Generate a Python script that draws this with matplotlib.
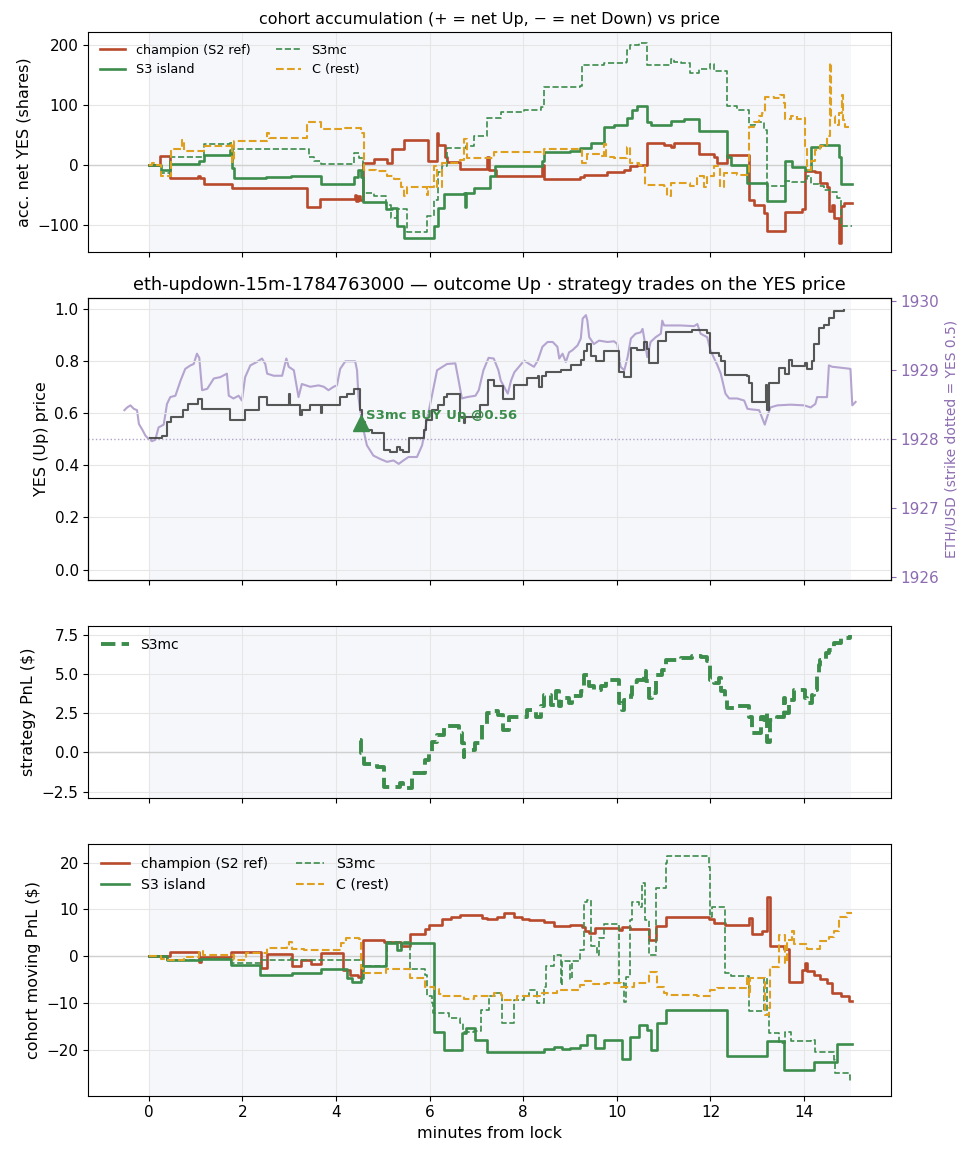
import matplotlib
matplotlib.use("Agg")
import matplotlib.pyplot as plt

# ---- data ----
champ_acc_t = [0, 0.24, 0.45, 1.06, 1.10, 1.18, 1.77, 3.39, 3.66, 4.40, 4.43, 4.47, 4.52, 4.58, 4.81, 5.08, 5.20, 5.45,
               5.96, 6.15, 6.19, 6.32, 6.38, 6.66, 7.23, 7.27, 7.41, 8.41, 8.44, 9.22, 9.30, 9.79, 10.15, 10.29, 10.43,
               10.65, 11.0, 11.15, 11.22, 11.75, 12.07, 12.14, 12.36, 12.82, 12.93, 13.14, 13.21, 13.60, 13.96, 14.03,
               14.24, 14.35, 14.49, 14.53, 14.60, 14.63, 14.74, 14.78, 14.85, 15.02]
champ_acc = [0, 15, -22, -19, -22, -31, -38, -70, -57, -50, -60, -52, -58, 4, 10, 3, 27, 41,
             6, 53, 34, 14, 5, -7, 14, -8, -19, 0, -24, -20, -17, -12, -8, -2, 0,
             37, 34, 30, 37, 19, 14, 3, 17, -58, -66, -80, -110, -79, -74, -10,
             -12, -30, -36, -77, -66, -88, -130, -69, -63, -63]

isl_acc_t = [0, 0.256, 0.456, 1.075, 1.18, 1.74, 1.77, 1.82, 2.50, 3.03, 3.67, 4.38, 4.46, 4.53, 4.58, 5.06, 5.20,
             5.31, 5.45, 6.09, 6.18, 6.31, 6.73, 6.75, 6.77, 6.95, 7.30, 7.39, 8.41, 8.44, 9.01, 9.22, 9.44, 9.72,
             9.94, 10.22, 10.33, 10.43, 10.65, 10.72, 11.15, 11.43, 11.75, 12.36, 12.43, 12.78, 13.21, 13.60, 13.74,
             14.03, 14.14, 14.35, 14.74, 14.78, 15.02]
isl_acc = [0, -8, 2, 6, 16, 25, -5, -22, -20, -18, -31, -20, -8, -20, -62, -74, -72,
           -102, -122, -102, -72, -49, -47, -70, -47, -38, -19, -2, 6, 21, 24, 28, 37, 63,
           67, 78, 92, 99, 71, 67, 73, 77, 56, 14, 0, -30, -60, 6, -3,
           -8, 30, 34, 14, -32, -32]

mc_acc_t = [0, 0.256, 0.45, 1.18, 1.74, 1.77, 3.42, 3.53, 3.67, 4.28, 4.38, 4.49, 4.58, 4.81, 5.06, 5.17, 5.31, 5.52,
            5.94, 6.09, 6.18, 6.27, 6.38, 6.77, 6.95, 7.23, 7.52, 8.01, 8.37, 8.44, 9.22, 9.26, 9.72, 10.19, 10.22,
            10.29, 10.47, 10.65, 11.15, 11.22, 11.36, 11.57, 11.75, 12.0, 12.07, 12.36, 12.57, 12.82, 12.96, 13.14,
            13.21, 13.60, 13.74, 14.03, 14.06, 14.14, 14.31, 14.42, 14.56, 14.70, 14.78, 15.02]
mc_acc = [0, -13, 14, 35, 37, 27, 14, 6, 2, 2, 20, 12, -47, -52, -66, -88, -74, -112,
          -85, -58, -12, -2, 28, 32, 48, 78, 89, 92, 97, 130, 132, 166, 170, 172, 192,
          200, 204, 166, 177, 172, 170, 154, 160, 169, 156, 98, 92, 67, 72, 59,
          -35, -27, -29, -24, -19, -31, -35, -41, -45, -55, -102, -102]

c_acc_t = [0, 0.08, 0.12, 0.256, 0.48, 0.72, 0.76, 1.18, 1.75, 1.77, 1.82, 2.53, 2.56, 3.39, 3.67, 4.17, 4.53, 4.60,
           4.85, 5.10, 5.24, 5.38, 5.45, 5.52, 5.94, 5.97, 6.09, 6.16, 6.27, 6.66, 6.73, 6.80, 7.37, 8.41, 8.44, 9.22,
           9.26, 9.37, 9.65, 9.72, 9.76, 9.94, 10.22, 10.29, 10.47, 10.61, 11.0, 11.07, 11.15, 11.57, 11.72, 11.86,
           11.93, 12.07, 12.21, 12.28, 12.57, 12.82, 12.93, 13.03, 13.10, 13.17, 13.35, 13.49, 13.57, 13.60, 13.71,
           13.85, 13.99, 14.03, 14.06, 14.14, 14.24, 14.35, 14.42, 14.49, 14.56, 14.58, 14.67, 14.74, 14.81, 14.83,
           14.88, 15.02]
c_acc = [0, 3, 0, -19, 27, 42, 24, 31, 37, 5, 40, 53, 45, 71, 60, 61, 53, -8,
         -10, -18, -24, -36, -51, -36, -50, -36, -2, -36, 3, 9, 43, 12, 21, 19, 27, 25,
         3, 19, 15, 35, 14, 12, 30, 3, 0, -33, -35, -52, -30, -35, -19, -36,
         -19, -2, -36, -13, -16, 64, 71, 81, 87, 114, 112, 117, 103, 76, 81,
         76, 78, 31, -8, 6, 25, 31, 34, 48, 170, 81, 67, 87, 117, 75,
         64, 64]

yes_t = [0.02, 0.28, 0.39, 0.48, 0.73, 0.83, 1.05, 1.14, 1.74, 2.06, 2.35, 2.53, 2.99, 3.02, 3.24, 3.27, 3.45, 3.67,
         3.70, 4.09, 4.23, 4.38, 4.51, 4.56, 4.63, 4.77, 5.02, 5.16, 5.30, 5.37, 5.44, 5.55, 5.87, 5.93, 6.05, 6.19,
         6.30, 6.37, 6.65, 6.73, 6.76, 7.08, 7.24, 7.38, 7.56, 7.81, 8.09, 8.31, 8.33, 8.41, 8.48, 8.80, 9.02, 9.23,
         9.30, 9.37, 9.44, 9.55, 9.73, 10.05, 10.16, 10.30, 10.44, 10.58, 10.65, 10.69, 10.87, 11.04, 11.61, 11.93,
         12.0, 12.18, 12.22, 12.32, 12.79, 12.82, 12.89, 13.18, 13.20, 13.25, 13.46, 13.60, 13.68, 13.75, 14.03,
         14.07, 14.17, 14.21, 14.32, 14.42, 14.53, 14.64, 14.86]
yes_p = [0.503, 0.513, 0.567, 0.583, 0.612, 0.634, 0.653, 0.615, 0.574, 0.612, 0.663, 0.631, 0.674, 0.631, 0.593,
         0.612, 0.631, 0.600, 0.631, 0.663, 0.673, 0.693, 0.612, 0.567, 0.535, 0.522, 0.458, 0.452, 0.471, 0.46,
         0.452, 0.503, 0.535, 0.574, 0.612, 0.631, 0.663, 0.673, 0.586, 0.56, 0.586, 0.631, 0.725, 0.704, 0.653,
         0.708, 0.734, 0.743, 0.70, 0.743, 0.759, 0.766, 0.785, 0.804, 0.838, 0.864, 0.819, 0.80, 0.838, 0.759,
         0.737, 0.85, 0.84, 0.874, 0.845, 0.79, 0.878, 0.91, 0.917, 0.906, 0.829, 0.82, 0.80, 0.746, 0.743,
         0.714, 0.644, 0.708, 0.612, 0.714, 0.772, 0.75, 0.804, 0.78, 0.79, 0.77, 0.80, 0.864, 0.926, 0.939,
         0.964, 0.99, 0.994]

eth_t = [-0.52, -0.46, -0.39, -0.32, -0.25, -0.21, -0.14, -0.07, 0.0, 0.07, 0.14, 0.21, 0.32, 0.39, 0.46, 0.57, 0.68,
         0.78, 0.89, 0.96, 1.03, 1.08, 1.14, 1.25, 1.39, 1.53, 1.67, 1.71, 1.81, 1.92, 1.99, 2.06, 2.17, 2.31, 2.42,
         2.49, 2.53, 2.67, 2.85, 2.94, 2.99, 3.10, 3.20, 3.27, 3.45, 3.63, 3.74, 3.84, 3.95, 4.02, 4.09, 4.20, 4.41,
         4.45, 4.48, 4.56, 4.66, 4.80, 4.95, 5.09, 5.23, 5.34, 5.44, 5.55, 5.73, 5.84, 5.94, 6.05, 6.16, 6.37, 6.55,
         6.62, 6.69, 6.80, 6.98, 7.05, 7.15, 7.26, 7.37, 7.47, 7.52, 7.59, 7.67, 7.74, 7.81, 7.91, 8.02, 8.13, 8.23,
         8.31, 8.41, 8.52, 8.63, 8.73, 8.77, 8.84, 8.91, 8.98, 9.05, 9.16, 9.23, 9.27, 9.34, 9.37, 9.41, 9.51, 9.62,
         9.80, 9.94, 10.01, 10.08, 10.16, 10.23, 10.30, 10.40, 10.51, 10.55, 10.58, 10.65, 10.72, 10.83, 10.94,
         10.97, 11.01, 11.36, 11.65, 11.72, 11.79, 11.93, 12.00, 12.08, 12.15, 12.22, 12.32, 12.40, 12.57, 12.72,
         12.79, 12.89, 13.04, 13.11, 13.16, 13.21, 13.28, 13.43, 13.71, 14.00, 14.14, 14.24, 14.28, 14.49, 14.53,
         14.60, 14.74, 14.99, 15.03, 15.10]
eth_usd = [1928.42, 1928.46, 1928.49, 1928.44, 1928.42, 1928.22, 1928.14, 1928.05, 1928.00, 1927.97, 1927.99,
           1928.17, 1928.21, 1928.51, 1928.61, 1928.63, 1928.85, 1929.02, 1929.07, 1929.09, 1929.24, 1929.18,
           1928.71, 1928.73, 1928.88, 1928.90, 1928.95, 1928.63, 1928.59, 1928.63, 1928.56, 1928.90, 1929.07,
           1929.12, 1929.17, 1929.09, 1928.95, 1928.92, 1928.92, 1929.17, 1929.05, 1929.00, 1928.61, 1928.80,
           1928.76, 1928.78, 1928.76, 1928.71, 1928.76, 1928.78, 1929.02, 1929.13, 1929.13, 1929.00, 1928.61,
           1928.22, 1927.91, 1927.76, 1927.71, 1927.67, 1927.69, 1927.64, 1927.69, 1927.74, 1927.74, 1927.91,
           1928.27, 1928.63, 1929.00, 1929.09, 1929.10, 1928.85, 1928.59, 1928.61, 1928.63, 1928.71, 1929.00,
           1929.18, 1929.17, 1929.00, 1928.85, 1928.76, 1928.66, 1928.85, 1928.97, 1929.05, 1929.14, 1929.09,
           1929.05, 1929.14, 1929.34, 1929.41, 1929.41, 1929.34, 1929.17, 1929.24, 1929.12, 1929.26, 1929.29,
           1929.36, 1929.46, 1929.75, 1929.80, 1929.72, 1929.48, 1929.38, 1929.43, 1929.41, 1929.42, 1929.38,
           1929.05, 1929.00, 1929.19, 1929.46, 1929.53, 1929.55, 1929.60, 1929.48, 1929.19, 1929.41, 1929.48,
           1929.53, 1929.72, 1929.65, 1929.65, 1929.64, 1929.67, 1929.53, 1929.48, 1929.29, 1929.17, 1929.07,
           1928.95, 1928.66, 1928.59, 1928.59, 1928.56, 1928.44, 1928.43, 1928.42, 1928.30, 1928.21, 1928.32,
           1928.46, 1928.49, 1928.50, 1928.49, 1928.46, 1928.51, 1928.61, 1928.61, 1929.07, 1929.05, 1929.04,
           1929.02, 1928.49, 1928.54]
strike = 1928.0

buy_t = 4.53
buy_price = 0.56

strat_t = [4.52, 4.53, 4.59, 4.88, 5.02, 5.37, 5.44, 5.62, 5.87, 5.91, 5.98, 6.05, 6.16, 6.30, 6.62, 6.69, 6.73, 6.74,
           6.98, 7.12, 7.22, 7.37, 7.47, 7.56, 7.70, 7.81, 8.09, 8.27, 8.38, 8.45, 8.59, 8.70, 8.77, 8.80, 8.98, 9.05,
           9.23, 9.30, 9.41, 9.51, 9.66, 9.76, 10.05, 10.12, 10.16, 10.30, 10.33, 10.44, 10.58, 10.62, 10.69, 10.76,
           10.83, 10.97, 11.04, 11.36, 11.61, 11.72, 11.79, 11.93, 12.0, 12.08, 12.18, 12.22, 12.32, 12.36, 12.50,
           12.79, 12.82, 12.89, 13.07, 13.14, 13.18, 13.21, 13.28, 13.43, 13.57, 13.60, 13.68, 13.78, 14.03, 14.07,
           14.17, 14.21, 14.28, 14.32, 14.35, 14.46, 14.53, 14.64, 14.78, 14.99]
strat_pnl = [0.79, -0.06, -0.75, -0.92, -2.19, -1.98, -2.3, -1.34, -1.3, -0.49, -0.06, 0.68, 1.11, 1.68, 1.21, 0.58,
             -0.28, 0.15, 0.58, 1.75, 2.49, 2.6, 2.39, 1.43, 2.28, 2.28, 2.71, 2.28, 2.92, 3.66, 3.03, 3.88, 2.92, 3.45,
             3.13, 3.56, 3.88, 4.94, 4.2, 3.98, 4.2, 4.58, 3.13, 2.71, 3.35, 3.66, 4.5, 4.62, 5.16, 4.52, 3.45, 3.77,
             4.94, 5.26, 5.9, 6.0, 6.12, 6.16, 6.05, 5.8, 4.62, 4.41, 4.73, 3.88, 3.45, 2.81, 2.96, 2.92, 2.28, 1.21,
             2.28, 2.07, 2.49, 0.68, 2.07, 2.28, 3.45, 2.49, 3.35, 3.98, 3.45, 3.13, 3.66, 3.98, 4.84, 5.58, 5.9,
             6.33, 6.54, 6.97, 7.29, 7.44]

champ_pnl_t = [0, 0.456, 1.075, 1.11, 1.75, 2.39, 2.53, 3.07, 3.25, 3.46, 3.67, 4.14, 4.31, 4.46, 4.53, 4.58, 5.02,
               5.38, 5.59, 5.91, 5.99, 6.27, 6.45, 6.66, 7.12, 7.23, 7.44, 7.59, 7.80, 7.98, 8.12, 8.44, 8.65, 9.01,
               9.26, 9.33, 9.40, 9.54, 10.04, 10.11, 10.29, 10.68, 10.83, 11.04, 11.96, 12.07, 12.32, 12.82, 12.89,
               13.10, 13.20, 13.27, 13.57, 13.67, 13.96, 14.03, 14.06, 14.21, 14.35, 14.49, 14.60, 14.78, 14.95, 15.02]
champ_pnl = [0, 0.85, -1.3, -0.2, 0.9, -2.6, 0.5, -2.0, -0.8, -1.7, 0.6, -2.9, -4.0, -4.5, -1.9, 3.5, 3.1,
             2.2, 4.7, 5.8, 6.7, 8.0, 8.5, 8.8, 8.1, 7.9, 8.3, 9.2, 8.5, 8.0, 7.8, 7.4, 6.5, 6.7,
             6.2, 5.3, 4.9, 6.0, 5.6, 6.3, 5.8, 3.5, 6.5, 8.3, 8.0, 7.2, 6.7, 8.1, 4.7,
             5.5, 12.6, 2.1, 1.5, -5.4, -2.9, -1.5, -3.1, -4.0, -4.9, -5.8, -7.9, -8.6, -9.5, -9.5]

isl_pnl_t = [0, 0.40, 1.11, 1.75, 2.38, 3.07, 3.67, 4.24, 4.35, 4.53, 4.58, 5.06, 5.31, 5.38, 6.09, 6.31, 6.70, 6.77,
             6.98, 7.23, 8.44, 8.65, 8.83, 9.01, 9.22, 9.37, 9.54, 9.72, 10.11, 10.29, 10.47, 10.65, 10.72, 10.86,
             11.04, 12.36, 13.21, 13.57, 14.21, 14.70, 15.02]
isl_pnl = [0, -0.9, -0.6, -1.9, -4.0, -3.5, -2.8, -4.7, -5.4, -4.7, -2.0, 2.8, 1.4, 2.8, -16.1, -20.0, -16.4, -15.4,
           -17.9, -20.4, -19.9, -19.3, -19.9, -19.6, -18.9, -16.8, -19.6, -17.9, -22.0, -17.2, -14.7, -15.7, -20.1,
           -14.2, -11.5, -21.3, -18.2, -24.3, -22.5, -18.7, -18.7]

mc_pnl_t = [0, 0.40, 1.11, 1.75, 2.39, 3.03, 3.07, 3.67, 4.53, 4.58, 5.06, 5.10, 5.59, 5.91, 5.95, 6.06, 6.08, 6.41,
            6.66, 6.72, 6.95, 7.09, 7.27, 7.41, 7.55, 7.80, 8.01, 8.12, 8.30, 8.44, 8.48, 8.65, 8.80, 8.83, 9.01, 9.05,
            9.22, 9.30, 9.37, 9.44, 9.58, 9.62, 9.72, 10.04, 10.15, 10.19, 10.29, 10.33, 10.47, 10.54, 10.61, 10.68,
            10.83, 11.04, 11.07, 11.96, 12.0, 12.04, 12.11, 12.32, 12.43, 12.82, 13.14, 13.21, 13.25, 13.46, 13.60,
            13.71, 14.14, 14.24, 14.63, 14.67, 14.95, 14.99]
mc_pnl = [0, -0.8, -0.5, -1.5, -0.8, -0.4, -0.8, -0.8, -0.8, -2.0, -0.8, 3.1, -2.8, -4.0, -8.6, -10.0, -12.2, -13.2,
          -14.2, -16.1, -16.0, -11.5, -8.6, -7.9, -14.3, -9.3, -8.6, -7.2, -9.9, -6.5, -2.1, 0.3, -6.1, -1.1, -4.9,
          -1.0, 1.4, 11.7, 12.0, 2.1, 0.3, 3.8, 7.0, -5.8, -9.7, -4.5, 7.8, 11.7, 10.5, 15.6, 7.8, 0.3, 14.5, 19.9,
          21.4, 19.1, 8.5, 10.6, 10.6, -3.6, -4.3, -11.8, -4.7, -12.5, -16.3, -18.5, -16.1, -18.2, -18.0, -20.4,
          -22.1, -25.0, -25.3, -26.8]

c_pnl_t = [0, 0.256, 0.40, 0.75, 1.075, 1.15, 1.82, 2.07, 2.53, 2.96, 3.0, 3.07, 3.32, 4.10, 4.21, 4.49, 4.53, 4.58,
           5.06, 5.59, 5.91, 6.09, 6.20, 6.27, 6.73, 6.95, 7.37, 7.52, 7.55, 7.87, 8.41, 8.73, 9.22, 9.33, 9.44, 9.76,
           10.08, 10.36, 10.68, 10.86, 11.0, 11.07, 11.72, 12.0, 12.14, 12.78, 12.82, 12.85, 13.17, 13.25, 13.28,
           13.46, 13.60, 13.64, 13.74, 13.78, 14.06, 14.35, 14.53, 14.63, 14.74, 14.92, 15.02]
c_pnl = [0, -0.5, -0.8, -0.1, 1.2, 0.3, -0.8, 0.6, 1.7, 2.1, 3.1, 1.5, 1.3, 2.9, 4.0, 3.6, -2.6, -3.5,
         -2.8, -4.7, -6.5, -7.0, -8.0, -8.4, -9.2, -8.6, -7.9, -8.3, -9.3, -8.6, -7.8, -7.2, -6.1, -5.2, -5.9, -5.8,
         -6.5, -5.8, -3.3, -6.5, -7.8, -8.3, -8.6, -7.3, -6.8, -4.5, -8.6, -4.7, -12.5, -11.0, -2.2,
         4.6, -1.5, 3.5, 5.3, 2.6, 1.5, 3.3, 4.2, 5.5, 8.3, 9.2, 9.2]

# ---- styling ----
RED = "#b84a2b"
GREEN = "#3c8c4b"
GOLD = "#dea01e"
PURPLE = "#8c6bb1"
ETH_C = "#b4a4cf"
SHADE = "#f5f7fb"
LABEL_FS = 11.5

fig = plt.figure(figsize=(9.73, 11.56), dpi=100)
L, W = 0.0908, 0.8246
ax1 = fig.add_axes([L, 0.7823, W, 0.1897])
ax2 = fig.add_axes([L, 0.4983, W, 0.2437], sharex=ax1)
ax3 = fig.add_axes([L, 0.3094, W, 0.1493], sharex=ax1)
ax4 = fig.add_axes([L, 0.0522, W, 0.2177], sharex=ax1)

for ax in (ax1, ax3, ax4):
    ax.axvspan(0, 15, color=SHADE, zorder=0, lw=0)
    ax.axhline(0, color="#d0d0d0", lw=1, zorder=1)
for ax in (ax1, ax2, ax3, ax4):
    ax.grid(True, color="#e6e6e6", lw=0.8, zorder=0)
    ax.set_axisbelow(True)

# panel 1: cohort accumulation
ax1.step(champ_acc_t, champ_acc, where="post", color=RED, lw=1.9, label="champion (S2 ref)")
ax1.step(isl_acc_t, isl_acc, where="post", color=GREEN, lw=1.9, label="S3 island")
ax1.step(mc_acc_t, mc_acc, where="post", color=GREEN, lw=1.2, ls="--", label="S3mc")
ax1.step(c_acc_t, c_acc, where="post", color=GOLD, lw=1.5, ls="--", label="C (rest)")
ax1.set_ylim(-144.5, 221)
ax1.set_yticks([-100, 0, 100, 200])
ax1.set_ylabel("acc. net YES (shares)", fontsize=LABEL_FS)
ax1.set_title("cohort accumulation (+ = net Up, \u2212 = net Down) vs price", fontsize=11.4)
ax1.legend(loc="upper left", ncol=2, fontsize=9.2, frameon=False)

# panel 2: YES price + ETH on a twin axis (strike 1928 sits on YES 0.5)
axr = ax2.twinx()
axr.axvspan(0, 15, color=SHADE, zorder=0, lw=0)
axr.plot(eth_t, eth_usd, color=ETH_C, lw=1.5, zorder=2)
axr.set_ylim(1925.955, 1930.045)
axr.set_yticks([1926, 1927, 1928, 1929, 1930])
axr.tick_params(axis="y", colors=PURPLE, labelsize=11)
axr.set_ylabel("ETH/USD (strike dotted = YES 0.5)", color=PURPLE, fontsize=10)
ax2.set_zorder(axr.get_zorder() + 1)
ax2.patch.set_visible(False)
ax2.axhline(0.5, color="#b0a2c8", lw=1, ls=":", zorder=1)
ax2.step(yes_t, yes_p, where="post", color="#444444", lw=1.5, alpha=0.9, zorder=3)
ax2.plot([buy_t], [buy_price], marker="^", ms=11, color=GREEN, ls="none", zorder=4)
ax2.annotate("S3mc BUY Up @%.2f" % buy_price, (buy_t, buy_price), xytext=(4, 6),
             textcoords="offset points", color=GREEN, fontsize=9.5, fontweight="bold", va="center", zorder=5)
ax2.set_ylim(-0.04, 1.04)
ax2.set_ylabel("YES (Up) price", fontsize=LABEL_FS)
ax2.set_title("eth-updown-15m-1784763000 \u2014 outcome Up \u00b7 strategy trades on the YES price", fontsize=12.8)

# panel 3: strategy pnl
ax3.step(strat_t, strat_pnl, where="post", color=GREEN, lw=2.8, ls="--", label="S3mc")
ax3.set_ylim(-2.93, 8.06)
ax3.set_yticks([-2.5, 0, 2.5, 5, 7.5])
ax3.set_ylabel("strategy PnL ($)", fontsize=LABEL_FS)
ax3.legend(loc="upper left", fontsize=10, frameon=False)

# panel 4: cohort moving pnl
ax4.step(champ_pnl_t, champ_pnl, where="post", color=RED, lw=1.9, label="champion (S2 ref)")
ax4.step(isl_pnl_t, isl_pnl, where="post", color=GREEN, lw=1.9, label="S3 island")
ax4.step(mc_pnl_t, mc_pnl, where="post", color=GREEN, lw=1.2, ls="--", label="S3mc")
ax4.step(c_pnl_t, c_pnl, where="post", color=GOLD, lw=1.5, ls="--", label="C (rest)")
ax4.set_ylim(-29.8, 24.0)
ax4.set_yticks([-20, -10, 0, 10, 20])
ax4.set_ylabel("cohort moving PnL ($)", fontsize=LABEL_FS)
ax4.set_xlabel("minutes from lock", fontsize=LABEL_FS)
ax4.legend(loc="upper left", ncol=2, fontsize=10.2, frameon=False)

ax1.set_xlim(-1.29, 15.85)
ax1.set_xticks([0, 2, 4, 6, 8, 10, 12, 14])
for ax in (ax1, ax2, ax3):
    ax.tick_params(labelbottom=False)
for ax in (ax1, ax2, ax3, ax4):
    ax.tick_params(labelsize=11)

fig.savefig("out.png", dpi=100)
